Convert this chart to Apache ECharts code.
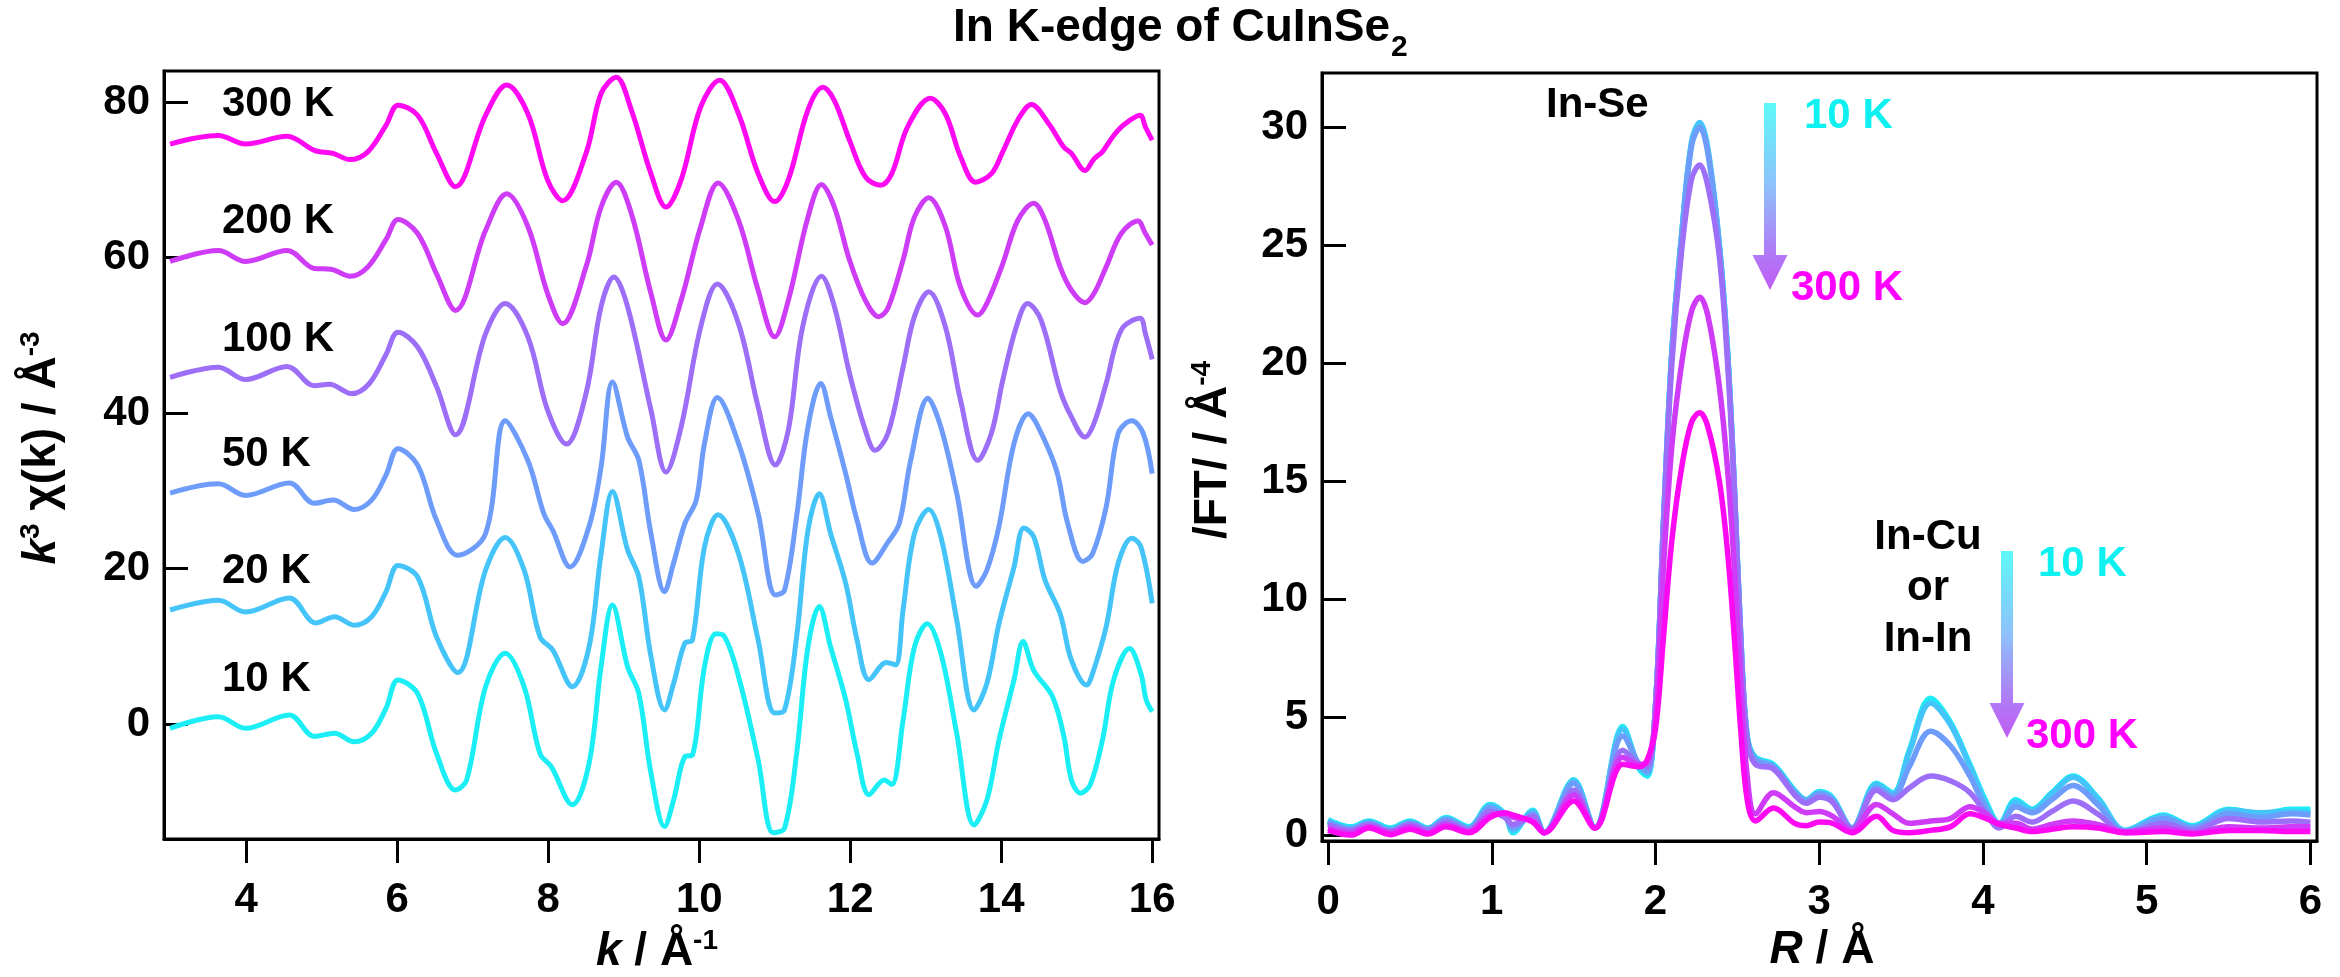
<!DOCTYPE html>
<html>
<head>
<meta charset="utf-8">
<title>In K-edge of CuInSe2</title>
<script src="https://cdn.jsdelivr.net/npm/echarts@6/dist/echarts.min.js"></script>
<style>
  html, body { margin: 0; padding: 0; background: #fff; }
  #main { width: 2340px; height: 977px; }
</style>
</head>
<body>
<div id="main"></div>
<script>
// ---- k-space EXAFS, k^3 chi(k); curves are stacked 15 units apart (values as plotted) ----
const k10K = [[2.99,-0.56],[3.63,0.94],[3.99,-0.56],[4.57,1.16],[4.90,-1.6],[5.17,-1.2],[5.43,-2.3],[5.66,-1.2],[5.85,2.0],[6.01,5.66],[6.27,3.9],[6.52,-3.8],[6.77,-8.5],[6.92,-7.2],[7.17,4.8],[7.43,9.1],[7.68,4.8],[7.89,-3.8],[8.04,-5.5],[8.32,-10.4],[8.54,-5.1],[8.70,7.4],[8.85,15.3],[9.05,7.4],[9.20,3.9],[9.36,-6.3],[9.54,-13.2],[9.66,-9.8],[9.81,-4.2],[9.91,-4.0],[10.07,7.4],[10.22,11.6],[10.32,11.4],[10.52,6.1],[10.78,-4.6],[10.98,-14.0],[11.13,-13.4],[11.29,-3.8],[11.44,9.9],[11.59,15.1],[11.74,9.9],[11.94,3.1],[12.09,-3.8],[12.25,-9.1],[12.45,-7.2],[12.55,-7.8],[12.70,0.5],[12.85,9.9],[13.02,12.9],[13.20,9.1],[13.41,-1.2],[13.64,-13.0],[13.81,-9.8],[13.97,-2.1],[14.17,5.7],[14.29,10.6],[14.43,6.9],[14.68,3.5],[14.83,-1.6],[14.93,-7.2],[15.05,-8.9],[15.18,-7.8],[15.34,-2.1],[15.49,5.7],[15.70,9.7],[15.85,6.5],[15.92,3.1],[16.00,1.6]];
const k20K = [[2.99,14.66],[3.63,15.9],[3.99,14.4],[4.57,16.2],[4.92,13.0],[5.17,13.8],[5.43,12.7],[5.66,13.8],[5.85,17.0],[6.01,20.4],[6.27,18.9],[6.52,11.2],[6.80,6.6],[7.17,19.8],[7.43,24.0],[7.68,19.8],[7.89,11.2],[8.06,9.5],[8.32,4.8],[8.54,9.9],[8.70,21.9],[8.85,29.9],[9.05,22.4],[9.20,18.9],[9.36,8.7],[9.54,1.8],[9.66,5.2],[9.81,10.4],[9.91,10.8],[10.07,22.8],[10.25,26.9],[10.52,21.9],[10.78,10.8],[11.00,1.4],[11.13,1.8],[11.29,11.2],[11.44,24.9],[11.59,29.6],[11.74,24.5],[11.94,18.1],[12.09,10.8],[12.25,5.7],[12.48,7.9],[12.60,7.6],[12.70,14.7],[12.85,24.5],[13.04,27.6],[13.20,24.1],[13.41,13.4],[13.64,1.8],[13.81,5.2],[13.97,12.9],[14.17,20.2],[14.30,25.2],[14.43,24.1],[14.58,18.5],[14.78,14.2],[14.93,8.2],[15.13,5.0],[15.21,6.5],[15.39,12.5],[15.55,20.7],[15.73,23.9],[15.85,22.8],[16.00,15.5]];
const k50K = [[2.99,29.7],[3.63,30.9],[3.99,29.4],[4.57,31.0],[4.90,28.4],[5.15,28.8],[5.43,27.6],[5.66,28.8],[5.85,32.0],[6.01,35.4],[6.27,33.3],[6.52,26.2],[6.80,21.7],[7.17,24.5],[7.43,39.0],[7.73,33.9],[7.94,27.1],[8.06,24.9],[8.29,20.2],[8.54,25.4],[8.70,33.1],[8.85,44.0],[9.05,36.9],[9.20,33.9],[9.36,24.5],[9.54,17.0],[9.66,20.7],[9.81,25.8],[9.96,28.8],[10.07,36.1],[10.24,42.0],[10.52,36.1],[10.78,27.1],[11.01,16.6],[11.13,17.2],[11.29,26.7],[11.44,38.2],[11.61,43.8],[11.74,39.5],[11.94,32.2],[12.09,26.2],[12.29,20.7],[12.50,23.4],[12.65,25.8],[12.80,33.9],[13.03,41.9],[13.20,38.2],[13.41,29.7],[13.67,17.7],[13.81,19.8],[13.97,25.4],[14.17,36.1],[14.36,39.9],[14.48,38.4],[14.73,32.7],[14.88,25.8],[15.08,20.9],[15.21,21.9],[15.39,27.9],[15.55,37.4],[15.73,39.0],[15.88,37.4],[16.00,32.2]];
const k100K = [[2.99,44.6],[3.63,45.9],[3.99,44.3],[4.54,46.0],[4.90,43.5],[5.10,43.7],[5.40,42.5],[5.63,43.8],[5.85,47.5],[6.01,50.4],[6.27,48.5],[6.52,43.4],[6.77,37.2],[7.17,50.2],[7.43,54.1],[7.73,49.8],[7.99,40.4],[8.24,36.0],[8.50,42.5],[8.70,53.7],[8.87,57.5],[9.05,53.7],[9.36,40.4],[9.56,32.4],[9.76,38.2],[10.02,51.1],[10.24,56.6],[10.52,51.5],[10.78,40.8],[11.01,33.3],[11.18,37.8],[11.37,51.1],[11.62,57.6],[11.79,53.7],[11.99,45.1],[12.20,37.8],[12.33,35.2],[12.50,37.4],[12.70,45.9],[12.85,52.4],[13.04,55.6],[13.26,51.1],[13.46,41.7],[13.69,33.9],[13.87,37.4],[14.02,44.2],[14.20,51.1],[14.35,54.1],[14.53,51.9],[14.78,42.9],[14.93,39.5],[15.11,36.9],[15.23,38.7],[15.39,43.8],[15.59,50.7],[15.84,52.2],[15.91,50.2],[16.00,46.9]];
const k200K = [[2.99,59.5],[3.63,60.9],[3.99,59.5],[4.54,60.9],[4.90,58.6],[5.12,58.5],[5.38,57.6],[5.61,58.8],[5.85,62.3],[6.01,64.9],[6.27,63.1],[6.52,57.9],[6.77,53.2],[7.17,63.5],[7.45,68.2],[7.73,64.0],[7.99,55.4],[8.19,51.5],[8.50,58.8],[8.70,66.5],[8.90,69.7],[9.10,65.7],[9.36,55.4],[9.56,49.4],[9.76,54.5],[10.02,64.0],[10.25,69.6],[10.52,64.8],[10.78,55.8],[11.00,49.8],[11.18,54.5],[11.44,65.2],[11.62,69.4],[11.79,66.5],[11.99,59.7],[12.20,54.5],[12.38,52.4],[12.50,53.5],[12.70,59.7],[12.85,65.2],[13.04,67.7],[13.26,64.0],[13.46,56.2],[13.69,52.6],[13.81,54.1],[14.02,59.2],[14.22,64.8],[14.43,67.0],[14.58,64.8],[14.78,58.8],[14.93,55.8],[15.11,54.2],[15.23,55.4],[15.39,58.8],[15.59,63.1],[15.81,64.7],[15.91,63.1],[16.00,61.6]];
const k300K = [[2.99,74.6],[3.63,75.7],[3.99,74.6],[4.54,75.6],[4.90,73.8],[5.15,73.4],[5.37,72.6],[5.61,73.6],[5.85,77.0],[6.01,79.6],[6.27,78.3],[6.52,73.4],[6.77,69.1],[7.17,78.3],[7.45,82.2],[7.73,78.5],[7.99,70.0],[8.19,67.3],[8.50,73.4],[8.70,81.1],[8.90,83.2],[9.10,79.0],[9.36,70.8],[9.56,66.5],[9.76,70.0],[10.02,79.4],[10.27,82.8],[10.52,78.5],[10.78,70.8],[11.00,67.2],[11.18,70.0],[11.44,79.0],[11.64,81.9],[11.79,80.2],[11.99,75.1],[12.20,70.4],[12.40,69.3],[12.55,70.8],[12.76,76.8],[13.06,80.5],[13.26,78.5],[13.46,73.0],[13.66,69.7],[13.87,70.8],[14.02,73.6],[14.22,77.7],[14.40,79.7],[14.63,77.2],[14.83,74.2],[14.93,73.4],[15.11,71.2],[15.23,72.7],[15.34,73.6],[15.49,75.7],[15.64,77.2],[15.84,78.3],[15.91,76.8],[16.00,75.1]];

// ---- R-space |FT| ----
const rGrid = [0.00,0.14,0.25,0.38,0.50,0.61,0.72,0.86,0.99,1.08,1.13,1.25,1.32,1.50,1.63,1.80,1.90,1.95,2.00,2.05,2.10,2.16,2.22,2.27,2.32,2.39,2.44,2.48,2.52,2.56,2.61,2.72,2.85,2.92,3.00,3.08,3.20,3.35,3.45,3.55,3.68,3.80,3.92,4.02,4.10,4.20,4.30,4.42,4.55,4.70,4.87,5.10,5.28,5.50,5.70,5.88,6.00];
const ft10K  = [0.65,0.35,0.60,0.30,0.60,0.30,0.75,0.35,1.30,0.90,0.10,1.05,0.10,2.35,0.30,4.60,2.80,2.50,5.5,13.5,20.5,25.5,29.3,30.1,29.0,25.0,20.5,15.0,8.5,4.2,3.30,3.00,1.90,1.50,1.85,1.60,0.30,2.20,1.80,3.60,5.80,4.80,3.00,1.40,0.50,1.50,1.10,1.80,2.50,1.60,0.20,0.85,0.40,1.10,0.90,1.10,1.10];
const ft20K  = [0.60,0.30,0.55,0.25,0.55,0.28,0.70,0.30,1.25,0.85,0.20,1.00,0.10,2.30,0.30,4.50,2.90,2.60,5.5,13.5,20.5,25.5,29.4,30.2,29.1,25.0,20.5,15.0,8.5,4.2,3.25,2.95,1.85,1.50,1.80,1.55,0.30,2.15,1.75,3.50,5.60,4.70,2.90,1.30,0.45,1.40,1.05,1.75,2.45,1.55,0.20,0.80,0.35,1.05,0.95,1.00,0.95];
const ft50K  = [0.55,0.25,0.50,0.20,0.50,0.25,0.65,0.30,1.15,0.80,0.30,0.90,0.10,2.20,0.30,4.20,3.00,2.70,5.5,13.5,20.5,25.4,29.2,30.0,28.9,24.9,20.4,15.0,8.5,4.1,3.20,2.90,1.80,1.45,1.75,1.50,0.30,2.00,1.65,2.90,4.40,3.80,2.50,1.10,0.40,1.20,0.95,1.50,2.10,1.30,0.15,0.70,0.30,0.90,0.75,0.90,0.85];
const ft100K = [0.45,0.20,0.45,0.15,0.45,0.20,0.55,0.20,1.00,0.75,0.45,0.80,0.10,1.90,0.30,3.60,3.00,2.90,5.5,13.3,20.0,24.8,27.8,28.4,27.5,24.5,20.0,14.8,8.3,4.0,3.00,2.80,1.70,1.35,1.60,1.40,0.25,1.90,1.50,2.00,2.50,2.30,1.80,0.90,0.30,0.80,0.55,1.00,1.45,0.90,0.10,0.50,0.20,0.70,0.55,0.60,0.55];
const ft200K = [0.30,0.10,0.35,0.10,0.35,0.10,0.45,0.15,0.85,0.90,0.75,0.60,0.10,1.70,0.30,3.30,3.00,3.10,5.0,11.5,16.5,20.0,22.2,22.8,22.0,19.0,15.5,11.5,6.5,2.5,0.90,1.80,1.20,0.95,1.00,0.80,0.20,1.30,0.90,0.50,0.60,0.70,1.20,0.90,0.50,0.50,0.25,0.45,0.60,0.45,0.15,0.30,0.10,0.35,0.30,0.35,0.35];
const ft300K = [0.20,0.00,0.30,0.02,0.25,0.05,0.35,0.10,0.75,0.95,0.85,0.55,0.10,1.45,0.30,3.00,2.90,3.20,4.5,8.5,12.5,15.6,17.5,17.9,17.3,15.0,12.0,8.5,4.5,1.5,0.60,1.15,0.50,0.40,0.55,0.50,0.10,0.80,0.20,0.10,0.20,0.35,0.90,0.70,0.45,0.30,0.15,0.25,0.35,0.30,0.10,0.15,0.05,0.20,0.20,0.15,0.15];

const temperatures = ['10 K', '20 K', '50 K', '100 K', '200 K', '300 K'];
const lineColors = ['#1BEEF4', '#45C4FA', '#6E9CFB', '#9D6EF8', '#CF3CF7', '#FF08F2'];
const kTicks = [4, 6, 8, 10, 12, 14, 16];
const chiTicks = [0, 20, 40, 60, 80];
const rTicks = [0, 1, 2, 3, 4, 5, 6];
const ftTicks = [0, 5, 10, 15, 20, 25, 30];

const FONT = '"Liberation Sans", Arial, Helvetica, sans-serif';
const kCurves = [k10K, k20K, k50K, k100K, k200K, k300K];
const ftCurves = [ft10K, ft20K, ft50K, ft100K, ft200K, ft300K];

function axisCommon(extra) {
  return Object.assign({
    type: 'value',
    splitLine: { show: false },
    axisLine: { show: true, onZero: false, lineStyle: { color: '#000', width: 3 } },
  }, extra);
}
function xAxisDef(grid, min, max, ticks) {
  return axisCommon({
    gridIndex: grid, min: min, max: max,
    axisTick: { show: true, inside: false, length: 24, customValues: ticks, lineStyle: { color: '#000', width: 3 } },
    axisLabel: { customValues: ticks, margin: 40, color: '#000', fontFamily: FONT, fontWeight: 'bold', fontSize: 42 }
  });
}
function yAxisDef(grid, min, max, ticks) {
  return axisCommon({
    gridIndex: grid, min: min, max: max,
    axisTick: { show: true, inside: true, length: 24, customValues: ticks, lineStyle: { color: '#000', width: 3 } },
    axisLabel: { customValues: ticks, margin: 14, color: '#000', fontFamily: FONT, fontWeight: 'bold', fontSize: 42 }
  });
}

const series = [];
kCurves.forEach((d, i) => {
  series.push({
    name: temperatures[i] + ' k', type: 'line', xAxisIndex: 0, yAxisIndex: 0,
    data: d, showSymbol: false, smooth: 0.35, silent: true,
    lineStyle: { color: lineColors[i], width: 5 }
  });
});
ftCurves.forEach((vals, i) => {
  series.push({
    name: temperatures[i] + ' R', type: 'line', xAxisIndex: 1, yAxisIndex: 1,
    data: rGrid.map((r, j) => [r, vals[j]]), showSymbol: false, smooth: 0.35, silent: true,
    lineStyle: { color: lineColors[i], width: 5.5 }
  });
});

const txt = (x, y, text, fill, extra) => ({
  type: 'text', x: x, y: y, silent: true,
  style: Object.assign({
    text: text, fill: fill || '#000',
    font: 'bold 42px ' + FONT, align: 'left', verticalAlign: 'middle'
  }, extra || {})
});

const supStyle = { fontSize: 28, lineHeight: 50, verticalAlign: 'top', fontWeight: 'bold', fontFamily: FONT, fill: '#000' };
const titleRich = {
  i: { fontStyle: 'italic', fontWeight: 'bold', fontSize: 46, lineHeight: 50, fontFamily: FONT, fill: '#000' },
  n: { fontWeight: 'bold', fontSize: 46, lineHeight: 50, fontFamily: FONT, fill: '#000' },
  sup: supStyle
};

function arrow(x, top, shaftBottom, tip) {
  return {
    type: 'polygon', silent: true,
    shape: { points: [[x - 6, top], [x + 6, top], [x + 6, shaftBottom], [x + 17.5, shaftBottom], [x, tip], [x - 17.5, shaftBottom], [x - 6, shaftBottom]] },
    style: {
      fill: { type: 'linear', x: 0, y: 0, x2: 0, y2: 1, colorStops: [
        { offset: 0, color: '#5EF8F8' }, { offset: 0.45, color: '#8FC0FB' }, { offset: 0.8, color: '#B07AF7' }, { offset: 1, color: '#C05CF3' }
      ] }
    }
  };
}

// figure title: main part plus a lowered subscript placed right after it
const titleMain = 'In K-edge of CuInSe';
const titleFont = 'bold 46px ' + FONT;
const measureCtx = document.createElement('canvas').getContext('2d');
measureCtx.font = titleFont;
const titleWidth = measureCtx.measureText(titleMain).width;
const titleLeft = 953;

const graphics = [
  txt(titleLeft, 28, titleMain, '#000', { font: titleFont }),
  txt(titleLeft + titleWidth + 1, 48, '2', '#000', { font: 'bold 30px ' + FONT }),
  // axis titles
  { type: 'text', x: 657, y: 952, silent: true,
    style: { text: '{i|k}{n| / Å}{sup|-1}', align: 'center', verticalAlign: 'middle', rich: titleRich } },
  { type: 'text', x: 1822, y: 950, silent: true,
    style: { text: '{i|R}{n| / Å}', align: 'center', verticalAlign: 'middle', rich: titleRich } },
  { type: 'text', x: 42, y: 448, rotation: Math.PI / 2, silent: true,
    style: { text: '{i|k}{sup|3}{n| χ(k) / Å}{sup|-3}', align: 'center', verticalAlign: 'middle', rich: titleRich } },
  { type: 'text', x: 1213, y: 450, rotation: Math.PI / 2, silent: true,
    style: { text: '{n|/FT/ / Å}{sup|-4}', align: 'center', verticalAlign: 'middle', rich: titleRich } },
  // temperature labels of the stacked k-space curves
  txt(222, 104, '300 K'), txt(222, 221, '200 K'), txt(222, 339, '100 K'),
  txt(222, 454, '50 K'), txt(222, 571, '20 K'), txt(222, 679, '10 K'),
  // R-space annotations
  txt(1546, 105, 'In-Se'),
  arrow(1770, 103, 255, 290),
  txt(1804, 116, '10 K', '#0FF0F0'),
  txt(1791, 288, '300 K', '#FF00FF'),
  txt(1928, 588, 'In-Cu\nor\nIn-In', '#000', { align: 'center', lineHeight: 51 }),
  arrow(2007, 551, 703, 738),
  txt(2038, 564, '10 K', '#0FF0F0'),
  txt(2026, 736, '300 K', '#FF00FF')
];

const option = {
  animation: false,
  backgroundColor: '#fff',
  grid: [
    { left: 164, top: 71, width: 995, height: 768, show: true, borderColor: '#000', borderWidth: 3, backgroundColor: 'transparent', containLabel: false },
    { left: 1322, top: 73, width: 995, height: 768, show: true, borderColor: '#000', borderWidth: 3, backgroundColor: 'transparent', containLabel: false }
  ],
  xAxis: [ xAxisDef(0, 2.91, 16.09, kTicks), xAxisDef(1, -0.037, 6.04, rTicks) ],
  yAxis: [ yAxisDef(0, -14.8, 84, chiTicks), yAxisDef(1, -0.25, 32.3, ftTicks) ],
  series: series,
  graphic: graphics
};

const chart = echarts.init(document.getElementById('main'), null, { renderer: 'canvas' });
chart.setOption(option);
</script>
</body>
</html>
